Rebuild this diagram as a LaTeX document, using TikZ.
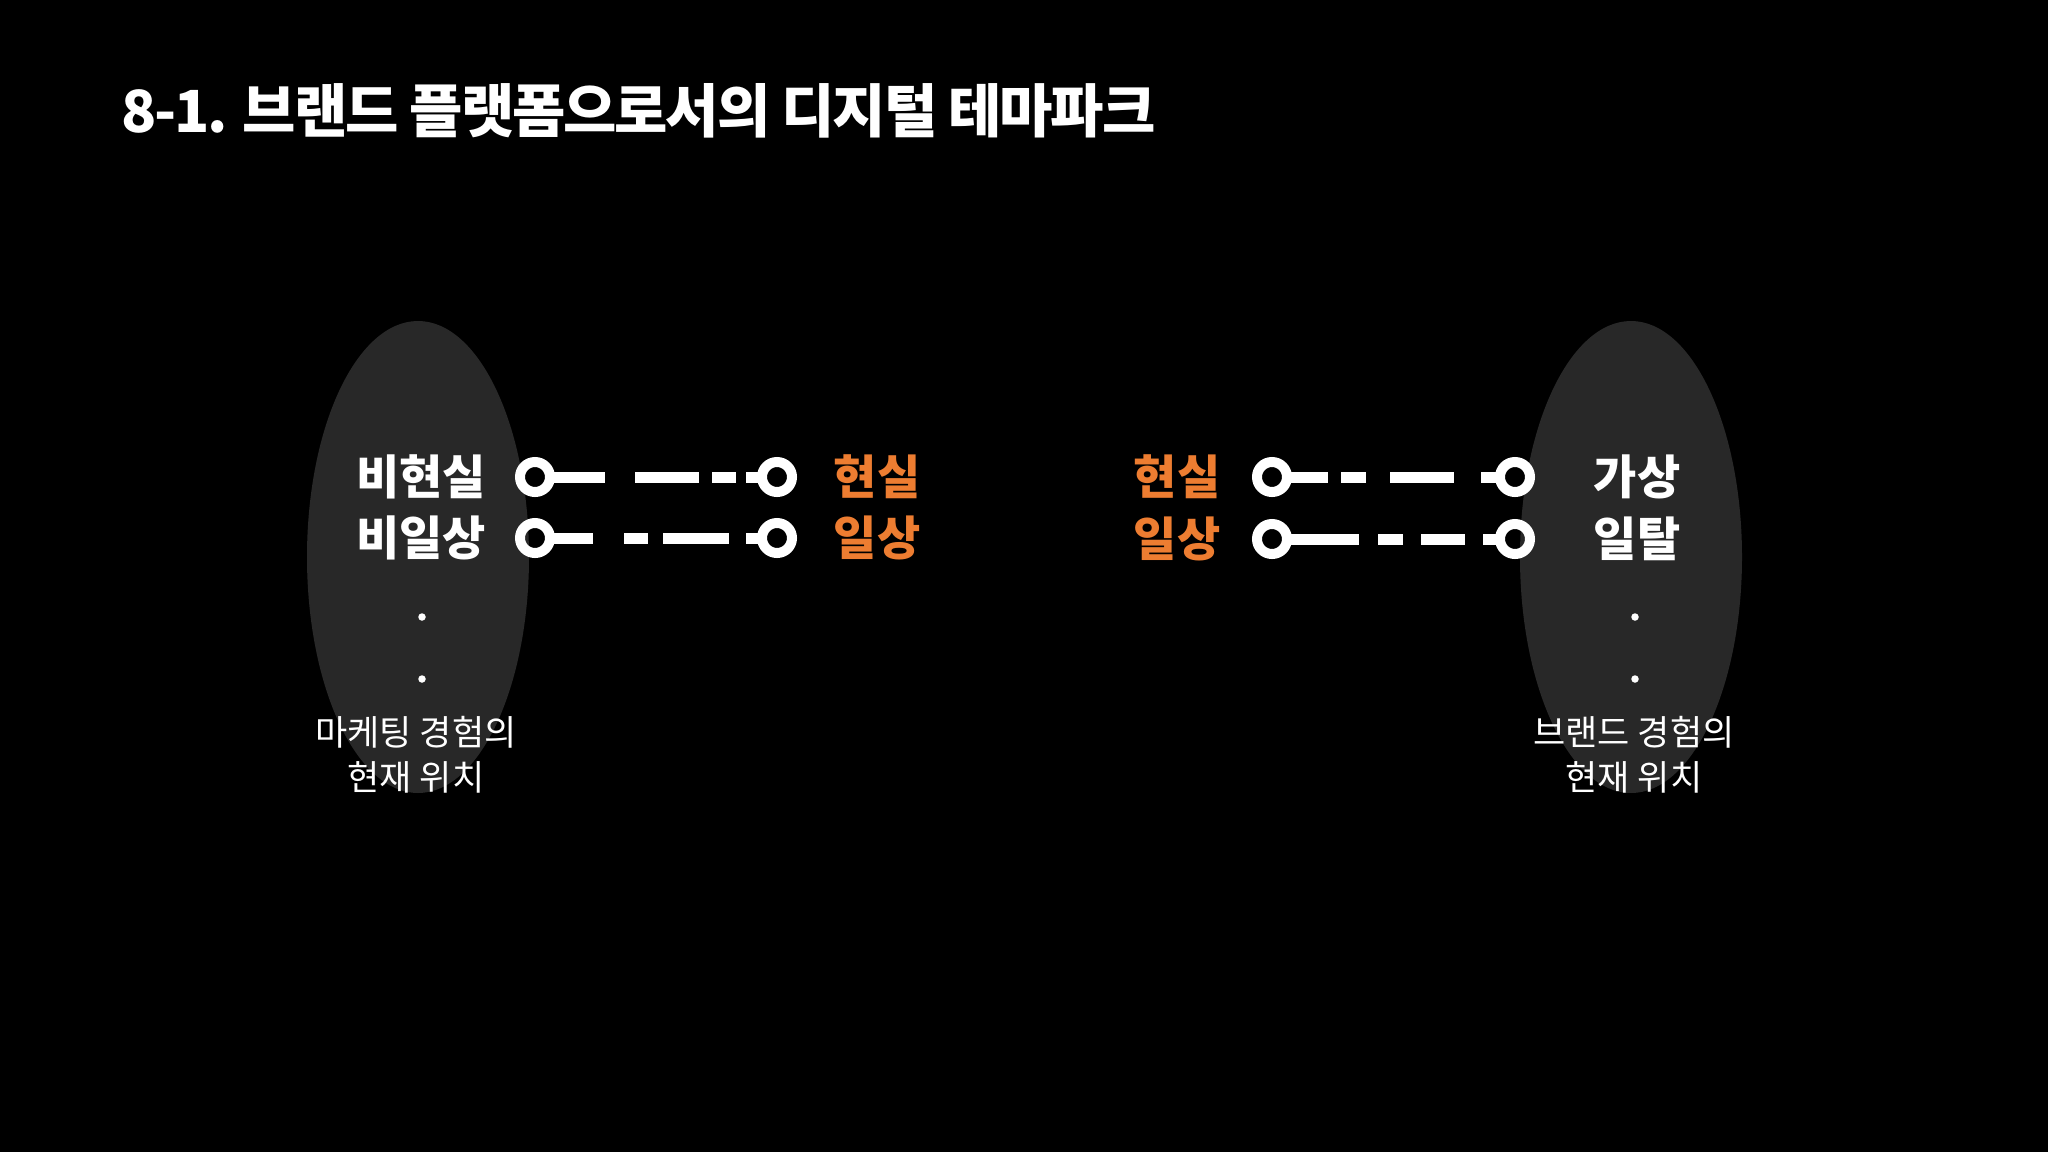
\documentclass[tikz,border=0pt]{standalone}
\usepackage{fontspec}
\usetikzlibrary{shapes.geometric}
\newfontfamily\kr{Noto Sans CJK KR}
\newfontfamily\krtitle{Noto Sans CJK KR}[LetterSpace=-3.7]
\definecolor{ellgray}{HTML}{282828}
\definecolor{accent}{HTML}{ED7D31}
\begin{document}
\begin{tikzpicture}[x=1pt,y=-1pt]
\tikzset{
  ell/.style={ellipse, fill=ellgray, minimum width=222pt, minimum height=472pt, inner sep=0pt},
  ring/.style={circle, draw=white, line width=10pt, minimum size=30pt, inner sep=0pt, outer sep=0pt},
  link/.style={draw=white, line width=11pt},
  lab/.style={font=\kr\bfseries\fontsize{47}{52}\selectfont, text=white, inner sep=0pt},
  olab/.style={lab, text=accent},
  dotst/.style={circle, fill=white, minimum size=7.5pt, inner sep=0pt},
  note/.style={font=\kr\fontsize{35}{45}\selectfont, text=white, align=center, inner sep=0pt},
  ttl/.style={font=\krtitle\bfseries\fontsize{58}{64}\selectfont, text=white, inner sep=0pt, anchor=west}
}
\fill[black] (0,0) rectangle (2048,1152);
\useasboundingbox (0,0) rectangle (2048,1152);

% title
\node[ttl] (title) at (121,111) {8-1. 브랜드 플랫폼으로서의 디지털 테마파크};

% ellipses
\node[ell] (elL) at (418,557) {};
\node[ell] (elR) at (1631,557) {};

% left group labels
\node[lab] (nreal) at (421,477) {비현실};
\node[lab] (ndaily) at (421,538) {비일상};
\node[olab] (real1) at (877,477) {현실};
\node[olab] (daily1) at (877,538) {일상};

% right group labels
\node[olab] (real2) at (1177,477) {현실};
\node[olab] (daily2) at (1177,539) {일상};
\node[lab] (virt) at (1637,477) {가상};
\node[lab] (escape) at (1637,539) {일탈};

% rings
\node[ring] (a1) at (535,477) {};
\node[ring] (b1) at (777,477) {};
\node[ring] (a2) at (535,538) {};
\node[ring] (b2) at (777,538) {};
\node[ring] (c1) at (1272,477) {};
\node[ring] (d1) at (1515,477) {};
\node[ring] (c2) at (1272,539) {};
\node[ring] (d2) at (1515,539) {};

% connectors
\draw[link, dash pattern=on 55pt off 30pt on 64pt off 13pt on 24pt off 10pt on 40pt] (a1.east) -- (b1.west);
\draw[link, dash pattern=on 43pt off 31pt on 24pt off 15pt on 66pt off 17pt on 40pt] (a2.east) -- (b2.west);
\draw[link, dash pattern=on 41pt off 13pt on 25pt off 24pt on 64pt off 27pt on 40pt] (c1.east) -- (d1.west);
\draw[link, dash pattern=on 72pt off 19pt on 25pt off 18pt on 44pt off 18pt on 40pt] (c2.east) -- (d2.west);

% dots
\node[dotst] (ldot1) at (422,617) {};
\node[dotst] (ldot2) at (422,679) {};
\node[dotst] (rdot1) at (1635,617) {};
\node[dotst] (rdot2) at (1635,679) {};

% notes
\node[note] (noteL) at (416,755) {마케팅 경험의\\현재 위치};
\node[note] (noteR) at (1634,755) {브랜드 경험의\\현재 위치};
\end{tikzpicture}
\end{document}
